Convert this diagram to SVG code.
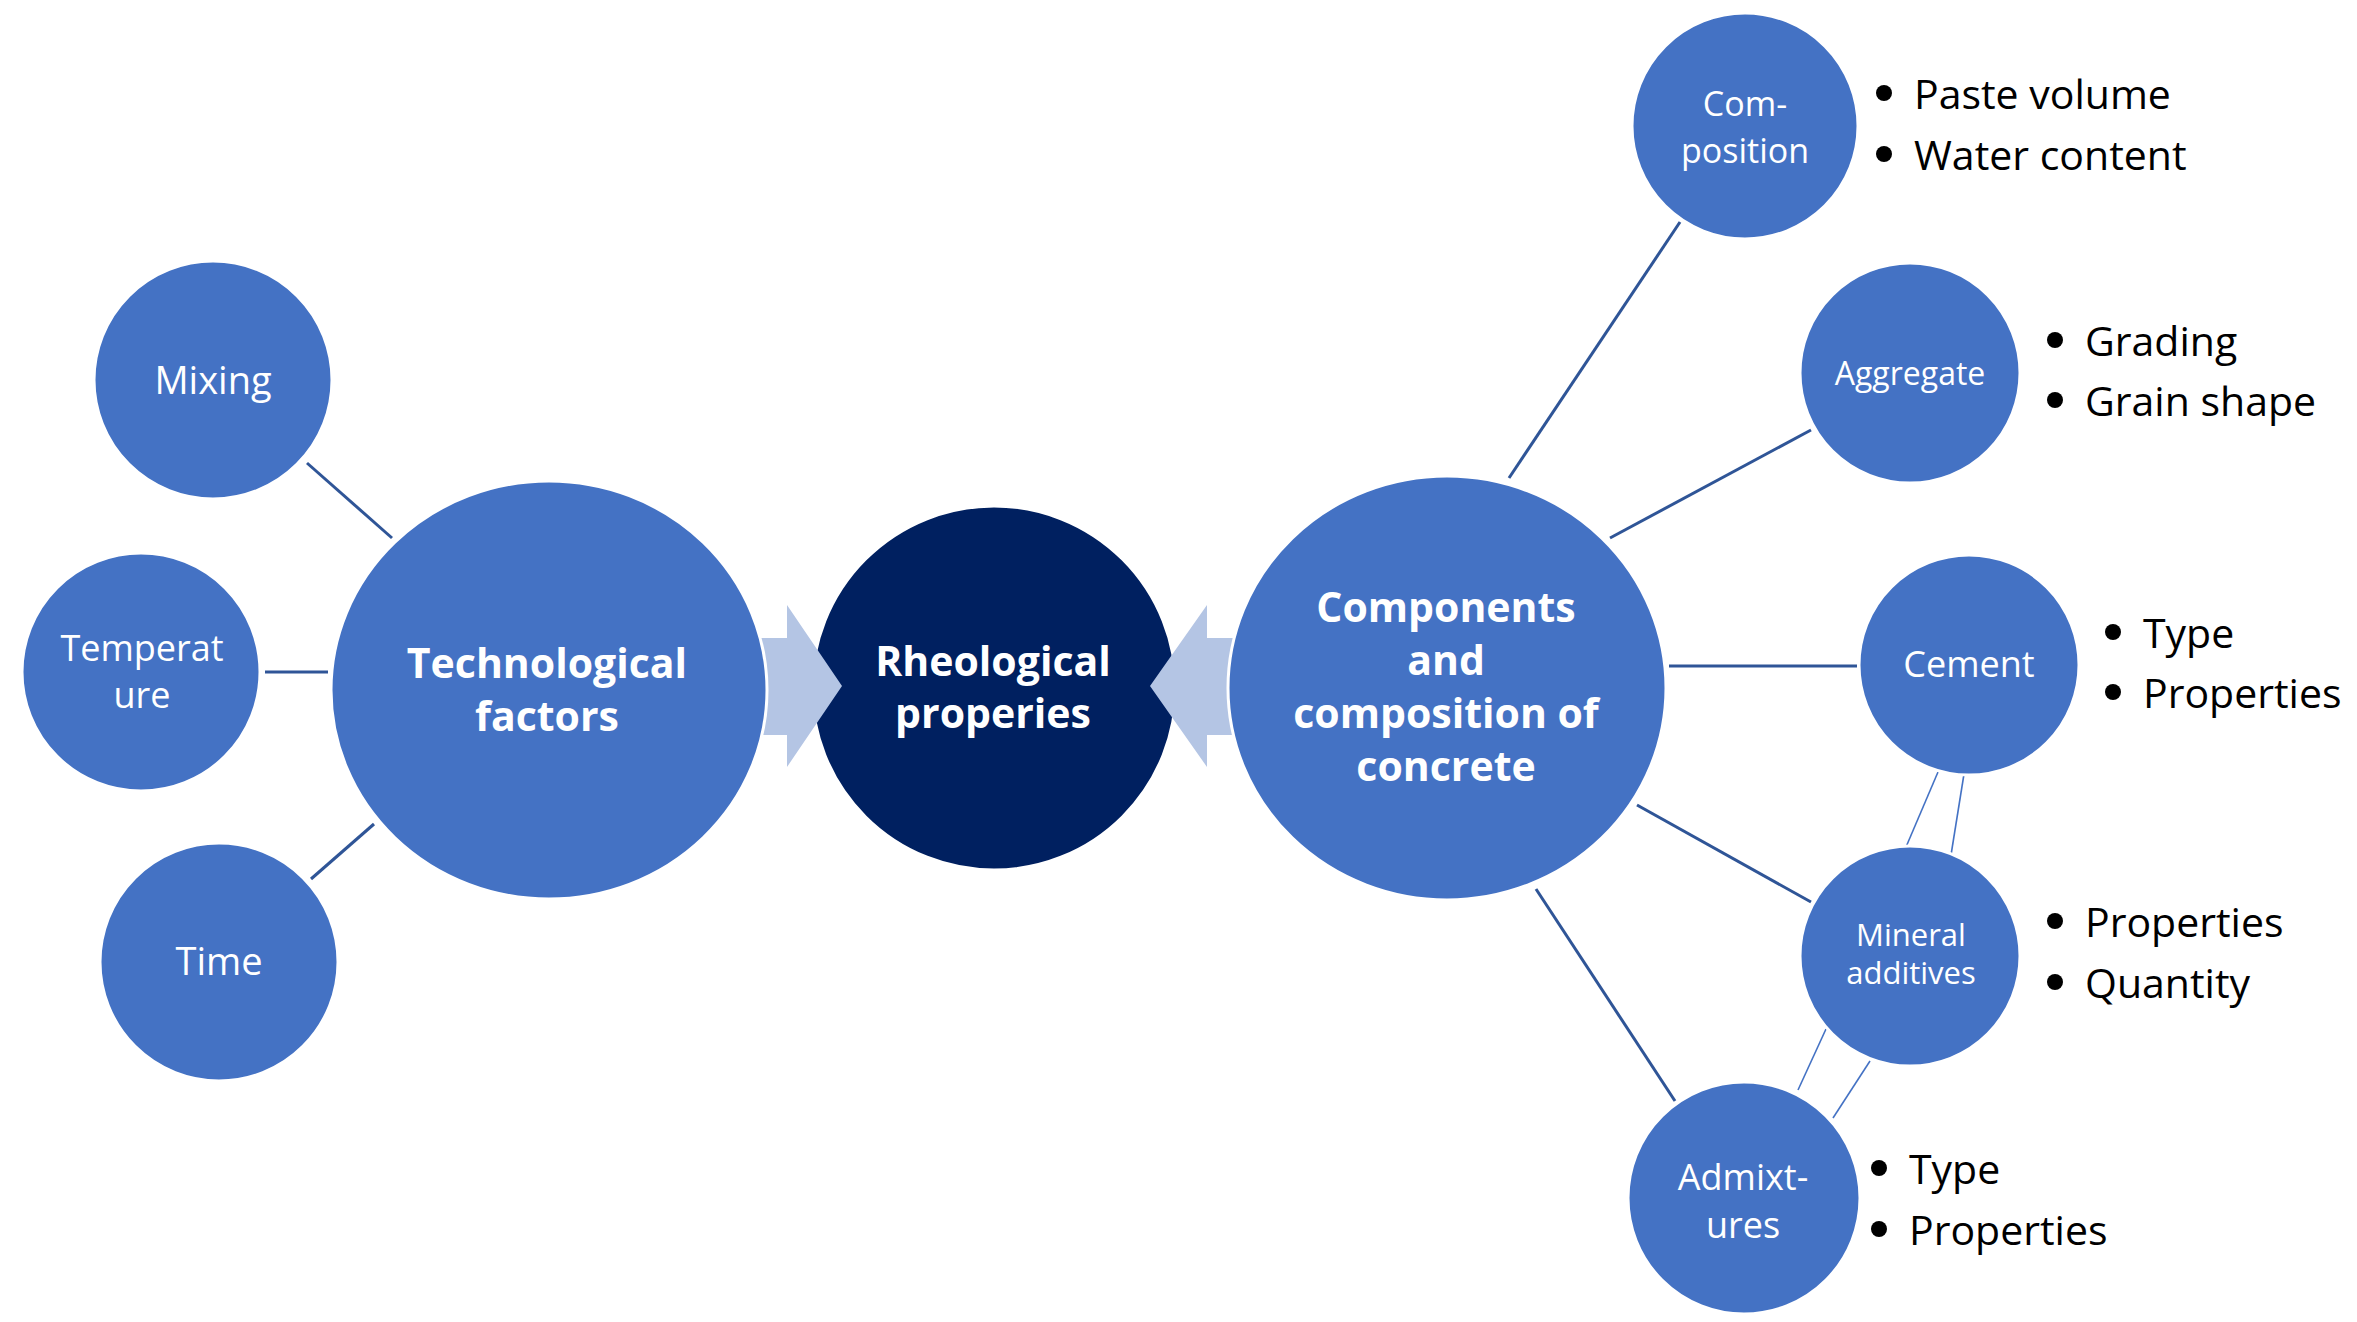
<svg xmlns="http://www.w3.org/2000/svg" width="2357" height="1322" viewBox="0 0 2357 1322">
  <style>
    .node { fill: #4472C4; stroke: #FFFFFF; stroke-width: 3; }
    .core { fill: #002060; stroke: #FFFFFF; stroke-width: 3; }
    .arrow { fill: #B4C5E4; }
    .link { stroke: #2F5597; stroke-width: 3; fill: none; }
    .thin { stroke: #4472C4; stroke-width: 1.6; fill: none; }
    .lbl { font-family: "Open Sans", "Liberation Sans", sans-serif; fill: #FFFFFF; text-anchor: middle; }
    .big { font-weight: bold; font-size: 41px; }
    .item { font-family: "Open Sans", "Liberation Sans", sans-serif; font-size: 41px; fill: #000000; }
    .dot { fill: #000000; }
  </style>
  <rect width="2357" height="1322" fill="#FFFFFF"/>

  <!-- connector lines -->
  <g id="connectors">
    <line class="link" x1="307" y1="463" x2="392" y2="538"/>
    <line class="link" x1="265" y1="672" x2="328" y2="672"/>
    <line class="link" x1="311" y1="879" x2="374" y2="824"/>
    <line class="link" x1="1509" y1="478" x2="1680" y2="222"/>
    <line class="link" x1="1610" y1="538" x2="1811" y2="430"/>
    <line class="link" x1="1669" y1="666" x2="1857" y2="666"/>
    <line class="link" x1="1637" y1="805" x2="1811" y2="902"/>
    <line class="link" x1="1536" y1="889" x2="1675" y2="1101"/>
    <line class="thin" x1="1938" y1="772" x2="1906" y2="847"/>
    <line class="thin" x1="1964" y1="774" x2="1951" y2="855"/>
    <line class="thin" x1="1826" y1="1029" x2="1798" y2="1090"/>
    <line class="thin" x1="1870" y1="1061" x2="1833" y2="1118"/>
  </g>

  <!-- left side factors -->
  <g id="mixing">
    <circle class="node" cx="213" cy="380" r="119"/>
    <text class="lbl" x="213" y="394" font-size="38">Mixing</text>
  </g>
  <g id="temperature">
    <circle class="node" cx="141" cy="672" r="119"/>
    <text class="lbl" x="142" y="661" font-size="36">Temperat</text>
    <text class="lbl" x="142" y="708" font-size="36">ure</text>
  </g>
  <g id="time">
    <circle class="node" cx="219" cy="962" r="119"/>
    <text class="lbl" x="219" y="975" font-size="38">Time</text>
  </g>

  <!-- central property -->
  <g id="rheological">
    <circle class="core" cx="994" cy="688" r="182"/>
    <text class="lbl big" x="993" y="676">Rheological</text>
    <text class="lbl big" x="993" y="728">properies</text>
  </g>

  <!-- block arrows pointing into the central circle -->
  <g id="arrow-left">
    <polygon class="arrow" points="755,638 787,638 787,605 842,686 787,767 787,735 755,735"/>
  </g>
  <g id="arrow-right">
    <polygon class="arrow" points="1240,638 1207,638 1207,605 1150,686 1207,767 1207,735 1240,735"/>
  </g>

  <g id="technological">
    <ellipse class="node" cx="549" cy="690" rx="218" ry="209"/>
    <text class="lbl big" x="547" y="678">Technological</text>
    <text class="lbl big" x="547" y="731">factors</text>
  </g>

  <g id="components">
    <ellipse class="node" cx="1447" cy="688" rx="219" ry="212"/>
    <text class="lbl big" x="1446" y="622">Components</text>
    <text class="lbl big" x="1446" y="675">and</text>
    <text class="lbl big" x="1446" y="728">composition of</text>
    <text class="lbl big" x="1446" y="781">concrete</text>
  </g>

  <!-- right side components -->
  <g id="composition">
    <circle class="node" cx="1745" cy="126" r="113"/>
    <text class="lbl" x="1745" y="116" font-size="34">Com-</text>
    <text class="lbl" x="1745" y="163" font-size="34">position</text>
  </g>
  <g id="aggregate">
    <circle class="node" cx="1910" cy="373" r="110"/>
    <text class="lbl" x="1910" y="385" font-size="32">Aggregate</text>
  </g>
  <g id="cement">
    <circle class="node" cx="1969" cy="665" r="110"/>
    <text class="lbl" x="1969" y="677" font-size="36">Cement</text>
  </g>
  <g id="mineral">
    <circle class="node" cx="1910" cy="956" r="110"/>
    <text class="lbl" x="1911" y="946" font-size="31">Mineral</text>
    <text class="lbl" x="1911" y="984" font-size="31">additives</text>
  </g>
  <g id="admixtures">
    <circle class="node" cx="1744" cy="1198" r="116"/>
    <text class="lbl" x="1743" y="1190" font-size="36">Admixt-</text>
    <text class="lbl" x="1743" y="1238" font-size="36">ures</text>
  </g>

  <!-- bullet lists -->
  <g id="list-composition">
    <circle class="dot" cx="1884" cy="93" r="8"/>
    <text class="item" x="1914" y="109">Paste volume</text>
    <circle class="dot" cx="1884" cy="154" r="8"/>
    <text class="item" x="1914" y="170">Water content</text>
  </g>
  <g id="list-aggregate">
    <circle class="dot" cx="2055" cy="340" r="8"/>
    <text class="item" x="2085" y="356">Grading</text>
    <circle class="dot" cx="2055" cy="400" r="8"/>
    <text class="item" x="2085" y="416">Grain shape</text>
  </g>
  <g id="list-cement">
    <circle class="dot" cx="2113" cy="632" r="8"/>
    <text class="item" x="2143" y="648">Type</text>
    <circle class="dot" cx="2113" cy="692" r="8"/>
    <text class="item" x="2143" y="708">Properties</text>
  </g>
  <g id="list-mineral">
    <circle class="dot" cx="2055" cy="921" r="8"/>
    <text class="item" x="2085" y="937">Properties</text>
    <circle class="dot" cx="2055" cy="982" r="8"/>
    <text class="item" x="2085" y="998">Quantity</text>
  </g>
  <g id="list-admixtures">
    <circle class="dot" cx="1879" cy="1168" r="8"/>
    <text class="item" x="1909" y="1184">Type</text>
    <circle class="dot" cx="1879" cy="1229" r="8"/>
    <text class="item" x="1909" y="1245">Properties</text>
  </g>
</svg>
